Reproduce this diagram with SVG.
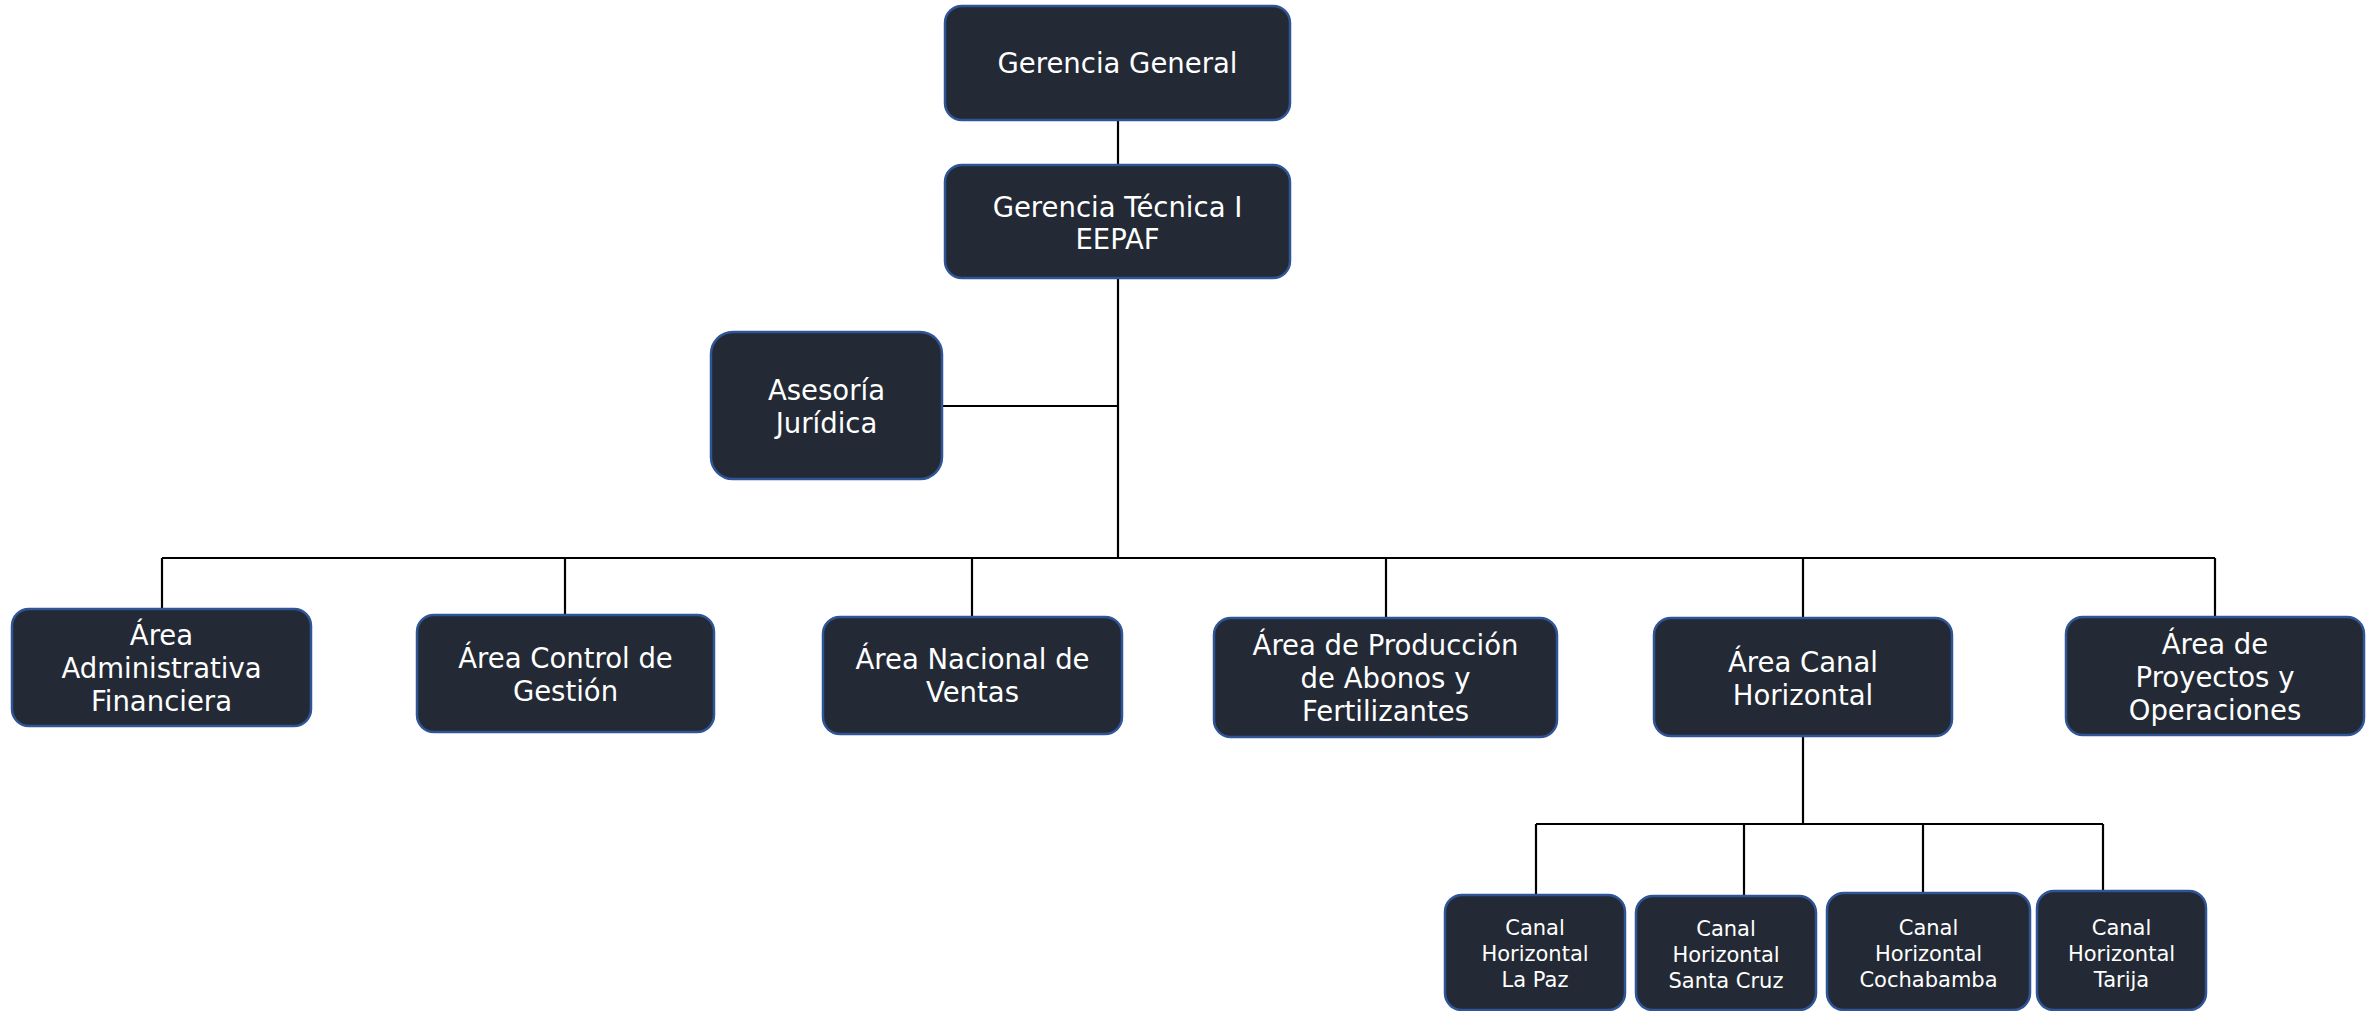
<svg xmlns="http://www.w3.org/2000/svg" width="2377" height="1011" viewBox="0 0 2377 1011">
<style>
.box{fill:#232a35;stroke:#2f5597;stroke-width:2.5}
.t{fill:#ffffff;font-family:"DejaVu Sans",Verdana,sans-serif;font-size:27.5px;text-anchor:middle}
.s{fill:#ffffff;font-family:"DejaVu Sans",Verdana,sans-serif;font-size:21px;text-anchor:middle}
.c{stroke:#000;stroke-width:2.2;fill:none}
</style>
<rect width="2377" height="1011" fill="#ffffff"/>
<g id="connectors" class="c">
<path d="M1118,120V165"/>
<path d="M1118,279V558"/>
<path d="M942,406H1118"/>
<path d="M162,558H2215"/>
<path d="M162,558V609"/>
<path d="M565,558V615"/>
<path d="M972,558V617"/>
<path d="M1386,558V618"/>
<path d="M1803,558V618"/>
<path d="M2215,558V617"/>
<path d="M1803,737V824"/>
<path d="M1536,824H2103"/>
<path d="M1536,824V895"/>
<path d="M1744,824V896"/>
<path d="M1923,824V893"/>
<path d="M2103,824V891"/>
</g>
<g id="gerencia-general">
<rect class="box" x="945" y="6" width="345" height="114" rx="17"/>
<text class="t" x="1117.5" y="73">Gerencia General</text>
</g>
<g id="gerencia-tecnica">
<rect class="box" x="945" y="165" width="345" height="113" rx="17"/>
<text class="t" x="1117.5" y="216.5">Gerencia Técnica I</text>
<text class="t" x="1117.5" y="249">EEPAF</text>
</g>
<g id="asesoria-juridica">
<rect class="box" x="711" y="332" width="231" height="147" rx="22"/>
<text class="t" x="826.5" y="400">Asesoría</text>
<text class="t" x="826.5" y="433">Jurídica</text>
</g>
<g id="area-administrativa">
<rect class="box" x="12" y="609" width="299" height="117" rx="17"/>
<text class="t" x="161.5" y="645">Área</text>
<text class="t" x="161.5" y="678">Administrativa</text>
<text class="t" x="161.5" y="711">Financiera</text>
</g>
<g id="area-control">
<rect class="box" x="417" y="615" width="297" height="117" rx="17"/>
<text class="t" x="565.5" y="668">Área Control de</text>
<text class="t" x="565.5" y="701">Gestión</text>
</g>
<g id="area-nacional">
<rect class="box" x="823" y="617" width="299" height="117" rx="17"/>
<text class="t" x="972.5" y="669">Área Nacional de</text>
<text class="t" x="972.5" y="702">Ventas</text>
</g>
<g id="area-produccion">
<rect class="box" x="1214" y="618" width="343" height="119" rx="17"/>
<text class="t" x="1385.5" y="655">Área de Producción</text>
<text class="t" x="1385.5" y="688">de Abonos y</text>
<text class="t" x="1385.5" y="721">Fertilizantes</text>
</g>
<g id="area-canal">
<rect class="box" x="1654" y="618" width="298" height="118" rx="17"/>
<text class="t" x="1803" y="672">Área Canal</text>
<text class="t" x="1803" y="705">Horizontal</text>
</g>
<g id="area-proyectos">
<rect class="box" x="2066" y="617" width="298" height="118" rx="17"/>
<text class="t" x="2215" y="654">Área de</text>
<text class="t" x="2215" y="687">Proyectos y</text>
<text class="t" x="2215" y="720">Operaciones</text>
</g>
<g id="canal-la-paz">
<rect class="box" x="1445" y="895" width="180" height="115" rx="17"/>
<text class="s" x="1535" y="935">Canal</text>
<text class="s" x="1535" y="961">Horizontal</text>
<text class="s" x="1535" y="987">La Paz</text>
</g>
<g id="canal-santa-cruz">
<rect class="box" x="1636" y="896" width="180" height="114" rx="17"/>
<text class="s" x="1726" y="936">Canal</text>
<text class="s" x="1726" y="962">Horizontal</text>
<text class="s" x="1726" y="988">Santa Cruz</text>
</g>
<g id="canal-cochabamba">
<rect class="box" x="1827" y="893" width="203" height="117" rx="17"/>
<text class="s" x="1928.5" y="935">Canal</text>
<text class="s" x="1928.5" y="961">Horizontal</text>
<text class="s" x="1928.5" y="987">Cochabamba</text>
</g>
<g id="canal-tarija">
<rect class="box" x="2037" y="891" width="169" height="119" rx="17"/>
<text class="s" x="2121.5" y="935">Canal</text>
<text class="s" x="2121.5" y="961">Horizontal</text>
<text class="s" x="2121.5" y="987">Tarija</text>
</g>
</svg>
